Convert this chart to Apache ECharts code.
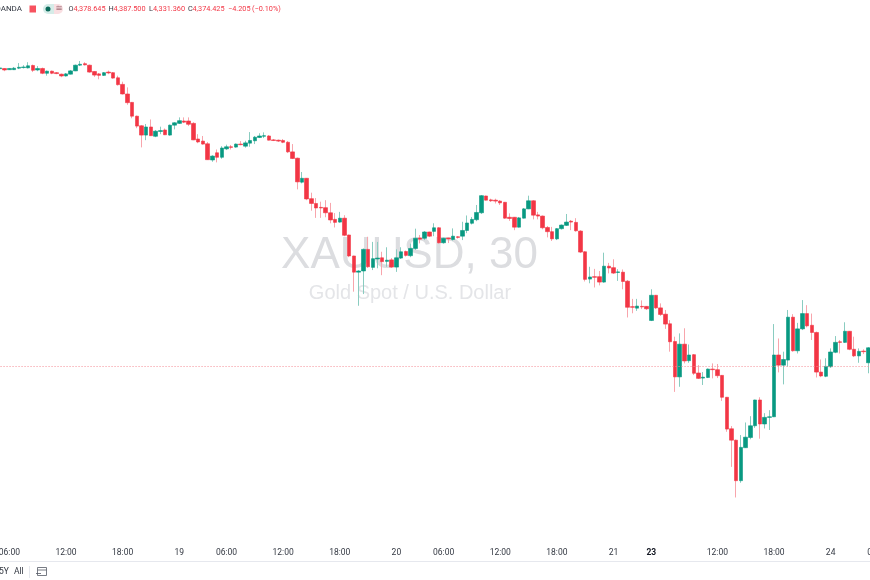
<!DOCTYPE html>
<html>
<head>
<meta charset="utf-8">
<title>XAUUSD, 30</title>
<style>
html, body { margin: 0; padding: 0; background: #fff; }
#container { width: 870px; height: 580px; }
</style>
<script src="https://cdn.jsdelivr.net/npm/echarts@6/dist/echarts.min.js"></script>
</head>
<body>
<div id="container"></div>
<script>
// 30 minute bars
var opens = [4473.5,4473.6,4473.2,4473.2,4473.7,4473.9,4473.8,4474.6,4473.1,4473.6,4472.0,4472.7,4472.2,4471.7,4471.1,4471.7,4472.8,4474.7,4475.2,4474.7,4472.6,4471.8,4471.3,4472.4,4472.2,4470.5,4468.3,4465.1,4462.3,4457.7,4454.5,4451.4,4454.1,4451.0,4452.6,4453.1,4451.4,4454.7,4455.3,4456.1,4456.1,4455.3,4450.1,4449.4,4448.5,4443.1,4445.5,4444.0,4446.8,4447.5,4447.4,4448.4,4447.7,4448.7,4449.5,4450.6,4451.0,4451.1,4449.8,4449.7,4449.6,4449.0,4445.8,4443.7,4435.7,4437.0,4430.2,4428.6,4427.3,4427.2,4425.5,4423.3,4422.4,4423.7,4418.1,4411.1,4405.7,4406.1,4413.3,4407.3,4410.1,4410.5,4409.3,4409.8,4407.4,4410.4,4412.6,4411.2,4413.6,4417.1,4417.0,4419.1,4419.3,4420.5,4415.5,4417.1,4416.6,4417.5,4417.7,4419.6,4422.0,4423.2,4425.5,4431.1,4429.8,4429.7,4429.4,4429.0,4424.0,4424.0,4420.7,4423.7,4426.8,4429.5,4424.8,4424.4,4420.6,4419.2,4416.8,4420.2,4421.3,4422.7,4422.3,4419.4,4412.5,4403.4,4404.2,4404.2,4402.4,4407.7,4407.2,4405.6,4405.7,4402.7,4394.2,4393.7,4394.3,4394.3,4389.6,4398.0,4393.8,4391.7,4388.5,4382.6,4370.8,4381.7,4376.2,4378.2,4372.1,4370.4,4370.6,4373.4,4373.2,4371.3,4364.0,4353.5,4349.7,4336.2,4347.2,4350.6,4354.5,4363.1,4355.1,4357.3,4357.5,4378.1,4374.7,4376.4,4390.7,4379.5,4386.8,4391.9,4388.0,4385.6,4372.4,4371.0,4374.2,4379.0,4382.5,4382.3,4386.0,4380.0,4377.8,4379.4,4375.5];
var closes = [4473.8,4473.1,4473.6,4473.7,4474.0,4474.1,4474.5,4473.0,4473.6,4472.0,4472.7,4472.0,4471.9,4471.1,4471.8,4472.8,4474.7,4475.0,4474.8,4472.4,4471.4,4471.3,4472.2,4472.1,4470.4,4468.2,4465.1,4462.2,4457.7,4454.4,4451.4,4454.1,4451.2,4452.7,4452.9,4451.5,4454.7,4455.5,4456.2,4455.7,4455.0,4449.8,4449.1,4448.4,4443.2,4444.4,4444.0,4447.1,4447.5,4447.3,4448.4,4448.2,4448.8,4449.6,4450.7,4451.1,4451.2,4449.7,4449.6,4449.4,4449.0,4445.8,4443.6,4435.8,4437.0,4430.1,4428.6,4427.1,4427.1,4425.5,4423.1,4422.3,4423.7,4418.0,4411.1,4405.7,4406.1,4413.3,4407.5,4410.2,4410.4,4409.2,4409.7,4407.4,4410.5,4412.5,4411.3,4413.6,4417.0,4416.7,4419.1,4417.7,4420.5,4415.5,4417.0,4416.8,4417.7,4417.3,4419.6,4422.1,4423.3,4425.6,4431.2,4429.7,4429.5,4429.4,4428.8,4423.7,4423.6,4420.7,4423.8,4426.8,4429.5,4424.7,4424.4,4420.5,4419.2,4416.8,4420.2,4421.4,4422.4,4422.4,4419.5,4412.4,4403.3,4404.1,4404.0,4402.4,4407.7,4407.1,4405.4,4405.8,4402.6,4394.0,4394.0,4394.4,4394.1,4393.5,4398.0,4393.8,4391.6,4388.4,4382.5,4370.8,4381.7,4376.1,4378.1,4372.0,4370.3,4370.7,4373.4,4373.2,4371.2,4364.0,4353.4,4349.7,4336.2,4347.3,4350.7,4354.5,4363.1,4355.1,4357.3,4357.5,4378.1,4374.7,4376.6,4390.7,4379.5,4386.8,4391.9,4387.8,4385.6,4372.4,4371.1,4374.3,4379.1,4382.3,4382.3,4386.0,4380.0,4377.8,4379.3,4379.2,4380.5];
var lows = [4473.1,4472.7,4473.1,4473.1,4473.4,4473.6,4473.6,4472.4,4472.7,4471.7,4471.2,4471.7,4471.7,4470.7,4470.9,4471.6,4472.7,4474.4,4474.6,4472.2,4470.8,4470.0,4471.1,4471.7,4470.2,4467.9,4464.9,4461.5,4457.0,4453.7,4447.3,4449.7,4451.1,4450.7,4451.7,4451.4,4451.2,4453.3,4455.1,4455.4,4454.4,4449.7,4448.7,4448.2,4443.1,4442.5,4442.3,4443.5,4446.4,4446.6,4447.2,4448.0,4447.2,4447.5,4448.4,4450.4,4450.4,4449.6,4449.4,4449.1,4448.7,4445.4,4443.4,4433.3,4435.3,4429.7,4426.2,4423.8,4423.8,4424.0,4422.0,4420.6,4422.2,4417.7,4410.7,4399.2,4394.5,4398.4,4407.1,4406.4,4407.0,4404.7,4407.5,4407.1,4405.8,4410.1,4410.9,4410.7,4413.1,4415.3,4416.4,4417.4,4417.7,4415.2,4415.2,4415.4,4416.2,4416.9,4416.4,4418.7,4421.6,4422.7,4425.1,4429.6,4429.1,4428.6,4428.1,4423.5,4422.8,4419.7,4420.6,4423.6,4426.7,4423.3,4423.3,4420.0,4417.3,4416.1,4416.4,4419.9,4421.1,4419.7,4419.2,4412.1,4402.6,4402.0,4400.6,4401.3,4402.2,4405.3,4405.1,4402.8,4400.0,4390.6,4392.0,4392.8,4393.4,4393.1,4389.4,4393.4,4391.1,4386.8,4379.2,4365.8,4367.5,4375.3,4375.5,4371.4,4370.1,4368.1,4370.4,4370.3,4370.4,4362.8,4352.5,4340.8,4330.6,4335.5,4347.1,4350.0,4353.8,4350.2,4353.6,4353.1,4357.4,4372.3,4368.3,4374.2,4379.2,4378.6,4386.4,4387.3,4383.1,4370.6,4370.7,4370.7,4373.8,4378.7,4378.6,4382.1,4379.7,4377.4,4375.5,4378.4,4372.0];
var highs = [4474.2,4473.7,4473.7,4474.1,4475.4,4474.7,4475.7,4474.9,4474.4,4473.9,4472.9,4472.9,4472.4,4471.9,4472.1,4473.1,4474.9,4476.1,4475.7,4474.9,4472.7,4472.1,4472.4,4472.9,4472.4,4471.2,4469.2,4467.3,4462.4,4457.9,4454.7,4455.1,4456.6,4453.1,4454.2,4453.6,4454.9,4455.7,4457.3,4457.3,4457.3,4455.7,4451.7,4451.1,4449.1,4444.7,4446.6,4447.7,4448.2,4448.1,4448.6,4449.4,4449.5,4452.4,4451.1,4452.0,4452.3,4451.4,4450.1,4449.9,4450.1,4449.4,4448.4,4443.9,4439.1,4437.1,4432.2,4430.4,4429.2,4429.7,4428.8,4425.4,4425.8,4424.7,4418.2,4411.2,4406.4,4413.6,4417.5,4415.8,4415.8,4412.5,4414.0,4410.4,4413.3,4414.0,4412.9,4415.2,4420.2,4418.1,4419.4,4419.2,4422.0,4420.7,4417.2,4417.2,4420.3,4417.7,4422.5,4424.6,4424.1,4428.1,4431.4,4431.2,4430.2,4430.2,4429.7,4429.1,4425.3,4424.1,4424.1,4427.1,4431.2,4429.7,4425.8,4424.6,4421.1,4420.8,4420.4,4421.6,4425.1,4423.1,4423.7,4419.7,4412.7,4407.5,4406.8,4406.1,4412.2,4408.8,4410.0,4406.7,4406.6,4403.1,4396.8,4396.8,4396.3,4394.4,4400.0,4398.1,4395.3,4393.1,4389.7,4384.2,4385.3,4387.0,4381.6,4378.4,4374.7,4372.4,4373.6,4375.3,4375.1,4371.4,4364.1,4354.4,4349.9,4351.4,4355.6,4357.7,4363.2,4364.0,4358.7,4359.7,4388.4,4383.6,4379.2,4393.1,4391.7,4388.8,4396.4,4394.7,4391.9,4385.9,4376.6,4377.0,4380.3,4384.4,4383.1,4389.0,4386.1,4384.2,4380.3,4380.0,4380.7];

// last price, drawn as the dotted line
var lastPrice = 4374.425;

// time axis, bar number of every label
var tickBars = [2, 14, 26, 38, 48, 60, 72, 84, 94, 106, 118, 130, 138, 152, 164, 176, 186];
var tickLabels = ['06:00', '12:00', '18:00', '19', '06:00', '12:00', '18:00', '20', '06:00', '12:00', '18:00', '21', '23', '12:00', '18:00', '24', '06:00'];
var barCount = 187;

var upColor = '#089981';
var downColor = '#f23645';
var upWick = '#8accc0';
var downWick = '#f8a5ac';
var font = 'Roboto';

var categories = [];
for (var i = 0; i < barCount; i++) {
    var pos = tickBars.indexOf(i);
    categories.push(pos >= 0 ? tickLabels[pos] : '');
}

var wickData = [];
var bodyData = [];
for (var i = 0; i < opens.length; i++) {
    wickData.push([opens[i], closes[i], lows[i], highs[i]]);
    bodyData.push([opens[i], closes[i], Math.min(opens[i], closes[i]), Math.max(opens[i], closes[i])]);
}

function headerText(x, str, color) {
    return {
        type: 'text', x: x, y: 9, silent: true,
        style: { text: str, fill: color, font: '7.3px ' + font, textVerticalAlign: 'middle' }
    };
}

var myChart = echarts.init(document.getElementById('container'), null, { renderer: 'canvas' });
myChart.setOption({
    animation: false,
    backgroundColor: '#ffffff',
    grid: { left: -2.44, top: 0, width: 882.64, height: 540, containLabel: false, outerBoundsMode: 'none' },
    xAxis: {
        type: 'category',
        data: categories,
        boundaryGap: true,
        axisLine: { show: false },
        axisTick: { show: false },
        splitLine: { show: false },
        axisLabel: {
            interval: function (index, value) { return value !== ''; },
            margin: 8,
            hideOverlap: false,
            color: '#333842',
            fontFamily: font,
            fontSize: 8.5,
            formatter: function (value) { return value === '23' ? '{b|23}' : value; },
            rich: { b: { fontWeight: 'bold', fontFamily: font, fontSize: 8.5, color: '#131722' } }
        }
    },
    yAxis: {
        type: 'value',
        min: 4316.425,
        max: 4496.425,
        show: false,
        splitLine: { show: false }
    },
    series: [
        {
            name: 'wick',
            type: 'candlestick',
            barWidth: 1,
            data: wickData,
            silent: true,
            itemStyle: {
                color: 'transparent', color0: 'transparent',
                borderColor: upWick, borderColor0: downWick, borderWidth: 1
            },
            markLine: {
                silent: true,
                symbol: 'none',
                label: { show: false },
                lineStyle: { type: [1, 2], color: '#f58d96', width: 1 },
                data: [{ yAxis: lastPrice }]
            }
        },
        {
            name: 'XAUUSD',
            type: 'candlestick',
            barWidth: 4,
            data: bodyData,
            silent: true,
            itemStyle: {
                color: upColor, color0: downColor,
                borderColor: upColor, borderColor0: downColor, borderWidth: 0.6
            }
        }
    ],
    graphic: [
        // watermark
        { type: 'text', x: 409.5, y: 256, z: -1, silent: true, style: { text: 'XAUUSD, 30', fill: '#dcdde0', font: '44px "Liberation Sans"', textAlign: 'center', textVerticalAlign: 'middle' } },
        { type: 'text', x: 410, y: 293, z: -1, silent: true, style: { text: 'Gold Spot / U.S. Dollar', fill: '#e4e5e8', font: '20px "Liberation Sans"', textAlign: 'center', textVerticalAlign: 'middle' } },
        // legend row
        { type: 'text', x: 22, y: 9, silent: true, style: { text: 'OANDA', fill: '#333842', font: '8px ' + font, textAlign: 'right', textVerticalAlign: 'middle' } },
        { type: 'rect', shape: { x: 29.5, y: 5.5, width: 6.5, height: 7 }, silent: true, style: { fill: '#f7525f' } },
        { type: 'rect', shape: { x: 43, y: 4, width: 11, height: 10, r: [5, 0, 0, 5] }, silent: true, style: { fill: '#d5ece8' } },
        { type: 'rect', shape: { x: 54, y: 4, width: 9, height: 10, r: [0, 5, 5, 0] }, silent: true, style: { fill: '#f9dfe2' } },
        { type: 'circle', shape: { cx: 48, cy: 9, r: 2.5 }, silent: true, style: { fill: '#0b6b5b' } },
        { type: 'text', x: 55.5, y: 9, silent: true, style: { text: '≅', fill: '#a0707a', font: '8.5px "DejaVu Sans"', textVerticalAlign: 'middle' } },
        headerText(68.5, 'O', '#333842'),
        headerText(73.5, '4,378.645', '#f23645'),
        headerText(108.5, 'H', '#333842'),
        headerText(113.5, '4,387.500', '#f23645'),
        headerText(149, 'L', '#333842'),
        headerText(153, '4,331.360', '#f23645'),
        headerText(188, 'C', '#333842'),
        headerText(192.5, '4,374.425', '#f23645'),
        headerText(228, '−4.205', '#f23645'),
        headerText(252, '(−0.10%)', '#f23645'),
        // bottom toolbar
        { type: 'line', shape: { x1: 0, y1: 561.5, x2: 870, y2: 561.5 }, silent: true, style: { stroke: '#e6e8ee', lineWidth: 1 } },
        { type: 'text', x: -1, y: 572, silent: true, style: { text: '5Y', fill: '#333842', font: '8.5px ' + font, textVerticalAlign: 'middle' } },
        { type: 'text', x: 14, y: 572, silent: true, style: { text: 'All', fill: '#333842', font: '8.5px ' + font, textVerticalAlign: 'middle' } },
        { type: 'line', shape: { x1: 29.5, y1: 566, x2: 29.5, y2: 578 }, silent: true, style: { stroke: '#e6e8ee', lineWidth: 1 } },
        { type: 'rect', shape: { x: 37.5, y: 567.5, width: 9, height: 8 }, silent: true, style: { fill: 'none', stroke: '#555a66', lineWidth: 0.8 } },
        { type: 'line', shape: { x1: 37.5, y1: 570, x2: 46.5, y2: 570 }, silent: true, style: { stroke: '#555a66', lineWidth: 0.8 } },
        { type: 'line', shape: { x1: 36, y1: 573.5, x2: 41, y2: 573.5 }, silent: true, style: { stroke: '#555a66', lineWidth: 0.8 } }
    ]
});
</script>
</body>
</html>
